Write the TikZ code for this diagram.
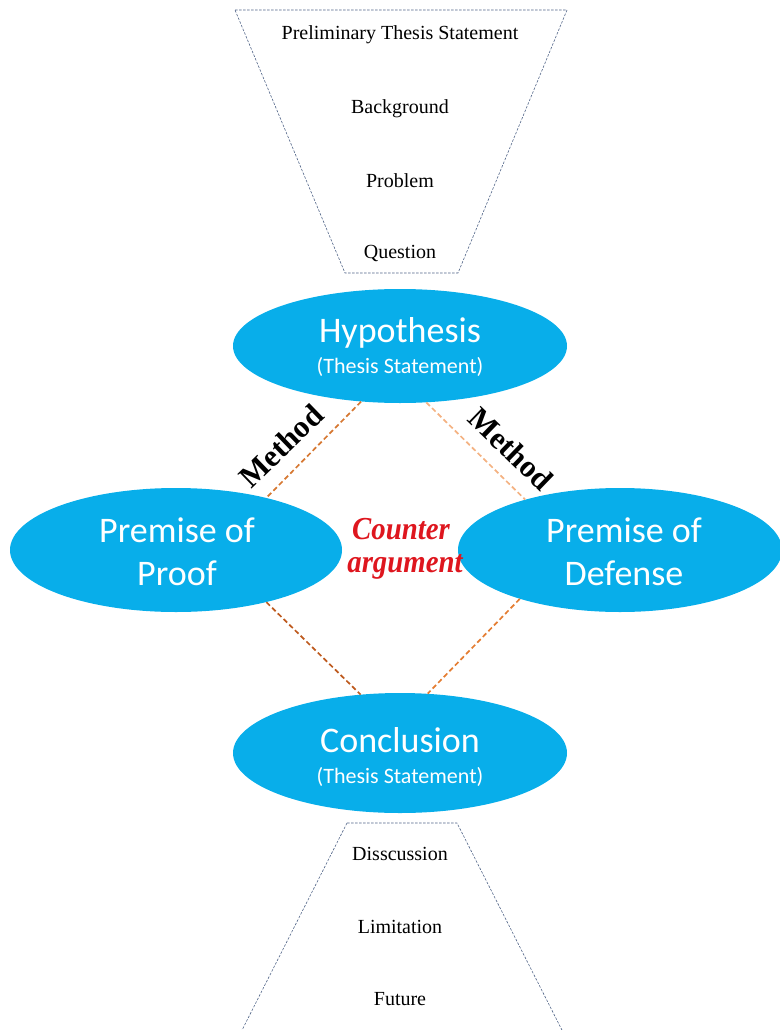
\documentclass[tikz,border=0pt]{standalone}
\usepackage{fontspec}
\setmainfont{Liberation Serif}
\newfontfamily\calib{Carlito}
\usetikzlibrary{shapes.geometric}
\definecolor{skyfill}{RGB}{8,174,234}
\definecolor{funnelline}{RGB}{80,100,135}
\definecolor{linkA}{RGB}{214,120,50}
\definecolor{linkB}{RGB}{244,178,130}
\definecolor{linkC}{RGB}{190,90,30}
\definecolor{linkD}{RGB}{228,125,50}
\definecolor{counterred}{RGB}{222,22,30}
\begin{document}
\begin{tikzpicture}[x=1pt,y=-1pt,
  blob/.style={ellipse,fill=skyfill,draw=none,inner sep=0pt},
  bigtxt/.style={text=white,font=\calib\fontsize{36}{43}\selectfont,align=center,inner sep=0pt},
  subtxt/.style={text=white,font=\calib\fontsize{22}{26}\selectfont,inner sep=0pt},
  funnel/.style={draw=funnelline,line width=0.6pt,dash pattern=on 2.5pt off 1.5pt},
  funneltxt/.style={font=\fontsize{20}{24}\selectfont,inner sep=0pt},
  link/.style={line width=1.7pt,dash pattern=on 5pt off 3pt},
  methodtxt/.style={font=\bfseries\fontsize{31}{34}\selectfont,inner sep=0pt},
  countertxt/.style={font=\bfseries\itshape\fontsize{32}{34}\selectfont,text=counterred,
    inner sep=0pt,anchor=base,xscale=0.9}
]
\useasboundingbox (0,0) rectangle (779,1030);

% upper funnel
\draw[funnel] (235,10) -- (567,10) -- (458,273) -- (345,273) -- cycle;
\node[funneltxt] (prelim) at (400,35) {Preliminary Thesis Statement};
\node[funneltxt] (backgr) at (400,109) {Background};
\node[funneltxt] (probl) at (400,181) {Problem};
\node[funneltxt] (quest) at (400,253) {Question};

% lower funnel
\begin{scope}
\clip (0,0) rectangle (779,1030);
\draw[funnel] (347,823) -- (457,823) -- (567,1040) -- (237,1040) -- cycle;
\end{scope}
\node[funneltxt] (discuss) at (400,854) {Disscussion};
\node[funneltxt] (limit) at (400,927) {Limitation};
\node[funneltxt] (future) at (400,999) {Future};

% ellipses
\node[blob,minimum width=334pt,minimum height=114pt] (hyp) at (400,346) {};
\node[blob,minimum width=332pt,minimum height=124pt] (proof) at (176,550) {};
\node[blob,minimum width=324pt,minimum height=124pt] (defense) at (620,550) {};
\node[blob,minimum width=334pt,minimum height=120pt] (concl) at (400,753) {};

% ellipse texts
\node[bigtxt] (hyptitle) at (400,333) {Hypothesis};
\node[subtxt] (hypsub) at (400,367) {(Thesis Statement)};
\node[bigtxt] (prooftxt) at (177,552) {Premise of\\Proof};
\node[bigtxt] (deftxt) at (624,552) {Premise of\\Defense};
\node[bigtxt] (concltitle) at (400,740) {Conclusion};
\node[subtxt] (conclsub) at (400,777) {(Thesis Statement)};

% dashed links
\draw[link,draw=linkA] (hyp.235) -- (proof.30);
\draw[link,draw=linkB] (hyp.295) -- (defense.152);
\draw[link,draw=linkC] (proof.330) -- (concl.124);
\draw[link,draw=linkD] (defense.206) -- (concl.65);

% labels
\node[methodtxt,rotate=44] (methodL) at (281,446) {Method};
\node[methodtxt,rotate=-44] (methodR) at (511,449) {Method};
\node[countertxt] (counterA) at (401,539) {Counter};
\node[countertxt] (counterB) at (405,572) {argument};
\end{tikzpicture}
\end{document}
